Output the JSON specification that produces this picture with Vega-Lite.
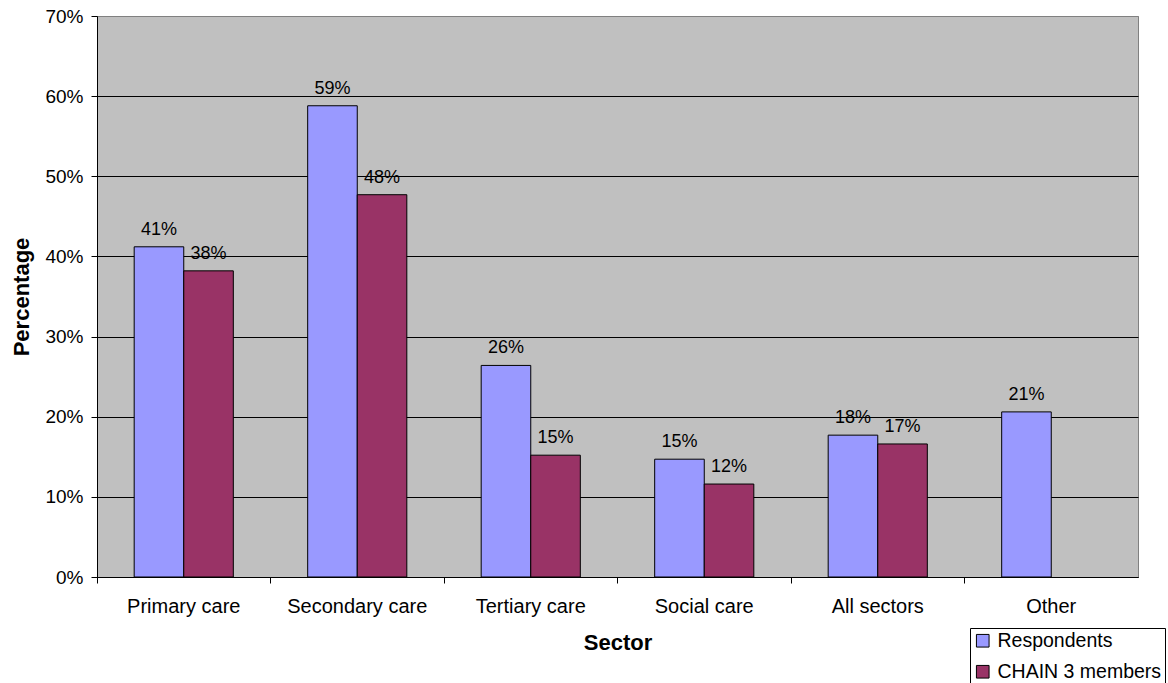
{
  "$schema": "https://vega.github.io/schema/vega-lite/v6.json",
  "autosize": {"type": "none"},
  "padding": {"left": 97, "top": 16, "right": 30, "bottom": 106},
  "width": 1041,
  "height": 561,
  "background": "white",
  "config": {
    "font": "Liberation Sans",
    "view": {"fill": "#C0C0C0", "stroke": "#808080", "strokeWidth": 1}
  },
  "data": {
    "values": [
      {"sector": "Primary care", "series": "Respondents", "value": 0.412},
      {"sector": "Primary care", "series": "CHAIN 3 members", "value": 0.382},
      {"sector": "Secondary care", "series": "Respondents", "value": 0.588},
      {"sector": "Secondary care", "series": "CHAIN 3 members", "value": 0.477},
      {"sector": "Tertiary care", "series": "Respondents", "value": 0.264},
      {"sector": "Tertiary care", "series": "CHAIN 3 members", "value": 0.152},
      {"sector": "Social care", "series": "Respondents", "value": 0.147},
      {"sector": "Social care", "series": "CHAIN 3 members", "value": 0.116},
      {"sector": "All sectors", "series": "Respondents", "value": 0.177},
      {"sector": "All sectors", "series": "CHAIN 3 members", "value": 0.166},
      {"sector": "Other", "series": "Respondents", "value": 0.206}
    ]
  },
  "encoding": {
    "x": {
      "field": "sector", "type": "nominal",
      "sort": ["Primary care", "Secondary care", "Tertiary care", "Social care", "All sectors", "Other"],
      "scale": {"paddingInner": 0, "paddingOuter": 0},
      "axis": {
        "title": "Sector", "titleFontSize": 22, "titleFontWeight": "bold", "titleColor": "black", "titlePadding": 16,
        "labelAngle": 0, "labelFontSize": 20, "labelColor": "black", "labelPadding": 13,
        "bandPosition": 0, "tickColor": "black", "tickSize": 6, "domainColor": "black", "grid": false
      }
    },
    "xOffset": {
      "field": "series", "type": "nominal",
      "sort": ["Respondents", "CHAIN 3 members"],
      "scale": {"paddingInner": 0, "paddingOuter": 0.75}
    },
    "y": {
      "field": "value", "type": "quantitative",
      "scale": {"domain": [0, 0.7], "nice": false},
      "axis": {
        "title": "Percentage", "titleFontSize": 22, "titleFontWeight": "bold", "titleColor": "black", "titlePadding": 11,
        "format": ".0%", "values": [0, 0.1, 0.2, 0.3, 0.4, 0.5, 0.6, 0.7],
        "labelFontSize": 19, "labelColor": "black", "labelPadding": 8,
        "tickColor": "black", "tickSize": 6, "domainColor": "black",
        "grid": true, "gridColor": {"condition": {"test": "datum.value >= 0.7", "value": "#808080"}, "value": "black"}, "gridOpacity": 1
      }
    }
  },
  "layer": [
    {
      "mark": {"type": "bar", "stroke": "black", "strokeWidth": 1},
      "encoding": {
        "color": {
          "field": "series", "type": "nominal",
          "sort": ["Respondents", "CHAIN 3 members"],
          "scale": {"domain": ["Respondents", "CHAIN 3 members"], "range": ["#9999FF", "#993366"]},
          "legend": {
            "title": null, "orient": "none", "legendX": 873, "legendY": 612,
            "symbolType": "square", "symbolSize": 160, "symbolStrokeColor": "black", "symbolStrokeWidth": 1, "symbolOpacity": 1,
            "labelFontSize": 19.5, "labelColor": "black", "labelOffset": 5, "labelLimit": 400,
            "fillColor": "white", "strokeColor": "black", "padding": 3, "rowPadding": 10
          }
        }
      }
    },
    {
      "mark": {"type": "text", "baseline": "bottom", "dy": -8, "fontSize": 18, "color": "black"},
      "encoding": {
        "text": {"field": "value", "type": "quantitative", "format": ".0%"}
      }
    }
  ]
}
